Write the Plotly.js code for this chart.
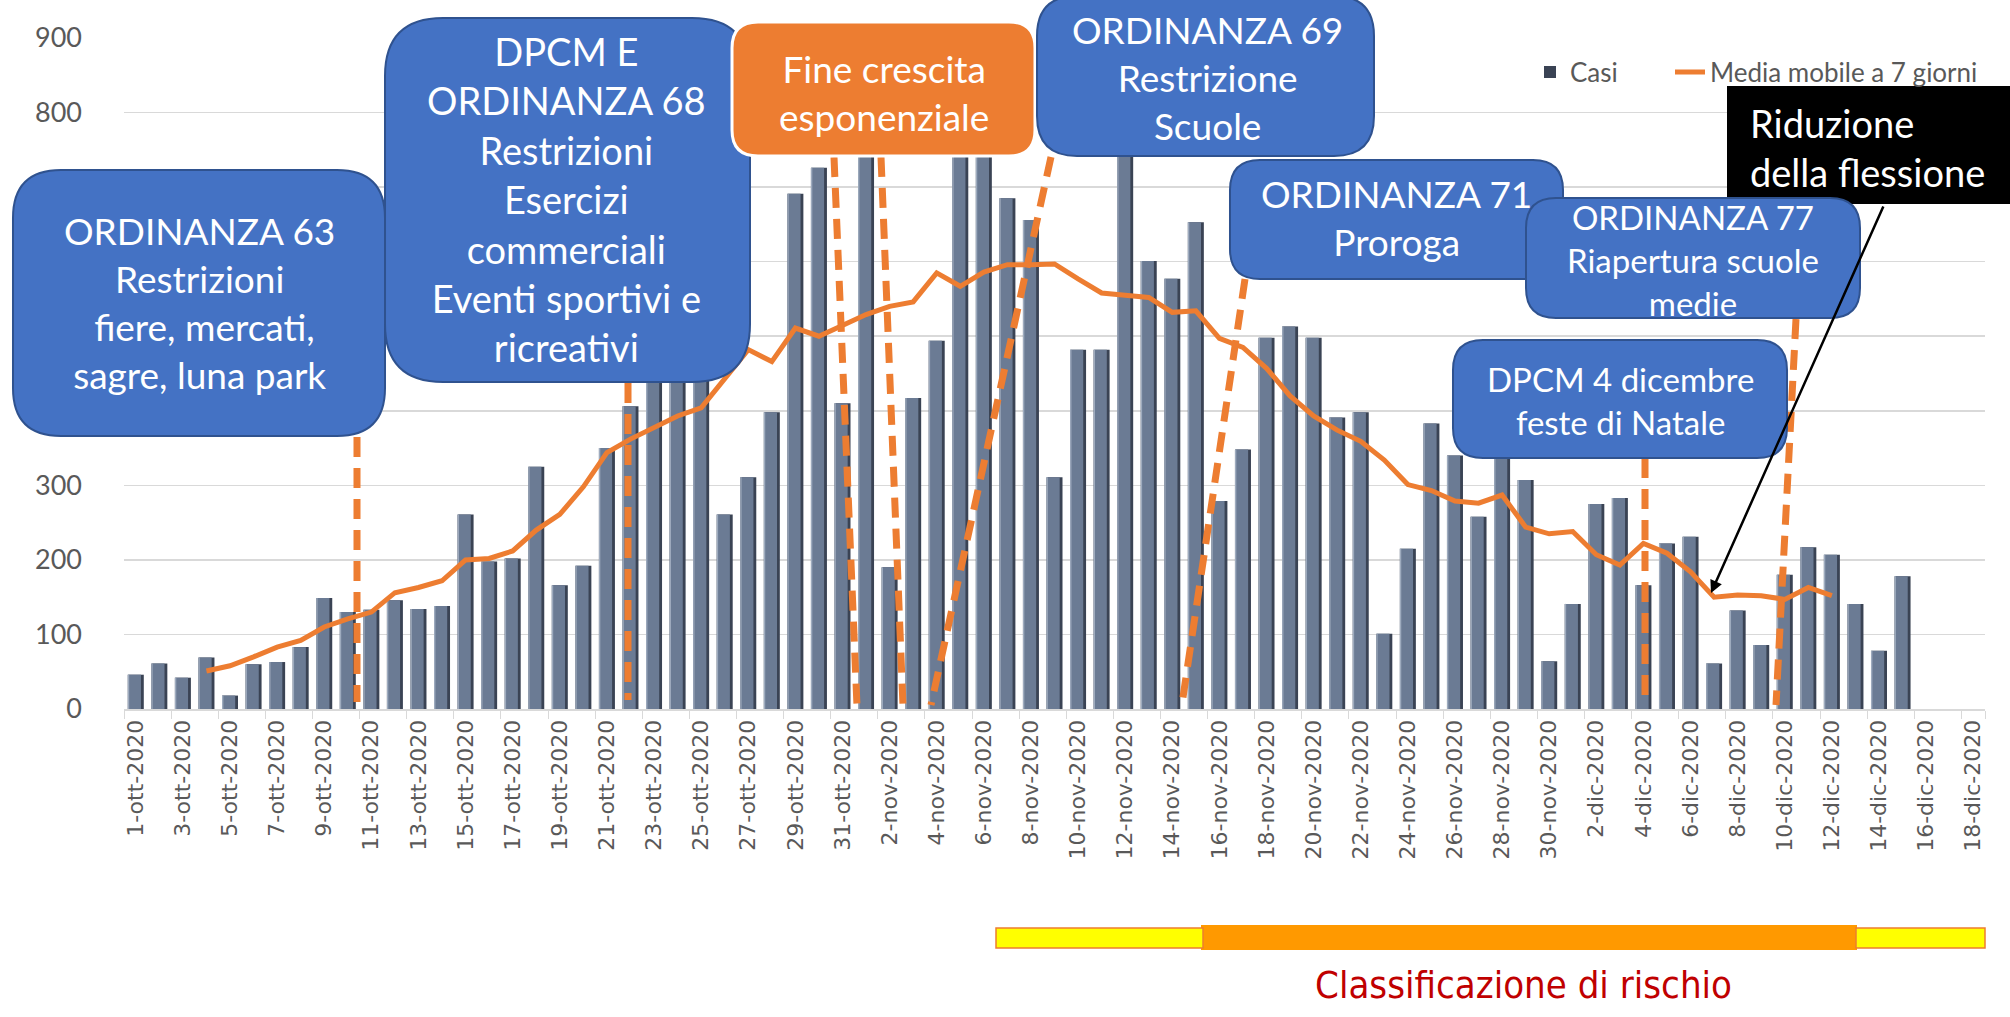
<!DOCTYPE html>
<html>
<head>
<meta charset="utf-8">
<script src="https://cdn.plot.ly/plotly-3.0.1.min.js"></script>
<style>
html,body{margin:0;padding:0;background:#fff;}
#chart{width:2010px;height:1017px;}
</style>
</head>
<body>
<div id="chart"></div>
<script>
// ---------- DATA ----------
const months = ["ott", "nov", "dic"];
const monthDays = [31, 30, 18];
const year = "2020";

// Daily cases, 1-ott-2020 .. 15-dic-2020
const casi = [
  46, 61, 42, 69, 18, 60, 63, 83, 149, 130,
  133, 146, 134, 138, 261, 198, 202, 325, 166, 192,
  350, 406, 445, 524, 451, 261, 311, 398, 691, 726,
  410, 780, 190, 417, 494, 763, 768, 685, 656, 311,
  482, 482, 795, 601, 577, 653, 279, 348, 498, 513,
  498, 391, 398, 101, 215, 383, 340, 258, 360, 307,
  64, 141, 275, 283, 166, 222, 231, 61, 132, 86,
  180, 217, 207, 141, 78, 178
];

// 7-day moving average, 4-ott-2020 .. 12-dic-2020
const mediaMobileStart = 3;
const mediaMobile = [
  51, 58, 70, 83, 92, 110, 121, 130, 156, 163,
  172, 200, 202, 212, 240, 261, 298, 344, 362, 378,
  393, 404, 443, 482, 466, 511, 500, 515, 529, 540,
  546, 585, 567, 586, 596, 596, 597, 577, 558, 555,
  552, 532, 534, 497, 485, 457, 420, 393, 374, 359,
  334, 301, 293, 279, 276, 287, 244, 235, 238, 207,
  193, 222, 209, 184, 150, 153, 152, 147, 163, 152
];

const yTicks = [0, 100, 200, 300, 400, 500, 600, 700, 800, 900];
// 400-700 sit behind the "ORDINANZA 63" box in the reference
const yTickText = ["0", "100", "200", "300", "", "", "", "", "800", "900"];

const boxTexts = {
  ord63: "ORDINANZA 63<br>Restrizioni<br> fiere, mercati,<br>sagre, luna park",
  dpcm68: "DPCM E<br>ORDINANZA 68<br>Restrizioni<br>Esercizi<br>commerciali<br>Eventi sportivi e<br>ricreativi",
  fine: "Fine crescita<br>esponenziale",
  ord69: "ORDINANZA 69<br>Restrizione<br>Scuole",
  ord71: "ORDINANZA 71<br>Proroga",
  ord77: "ORDINANZA 77<br>Riapertura scuole<br>medie",
  dpcm4: "DPCM 4 dicembre<br>feste di Natale",
  rid: "Riduzione<br>della flessione"
};
const rischioLabel = "Classificazione di rischio";

// ---------- BUILD ----------
const categories = [];
months.forEach((m, k) => {
  for (let d = 1; d <= monthDays[k]; d++) categories.push(d + "-" + m + "-" + year);
});
const casiX = categories.slice(0, casi.length);
const mmX = categories.slice(mediaMobileStart, mediaMobileStart + mediaMobile.length);
const tickVals = categories.filter((c, i) => i % 2 === 0);

// pixel -> paper helpers (plot area: x 124..1985, y 38..709)
const PL = 124, PR = 1985, PT = 38, PB = 709;
const px = x => (x - PL) / (PR - PL);
const py = y => (PB - y) / (PB - PT);

function rrect(x0, y0, x1, y1, r) {
  const P = (x, y) => px(x).toFixed(5) + "," + py(y).toFixed(5);
  return "M" + P(x0 + r, y0) + " L" + P(x1 - r, y0) + " Q" + P(x1, y0) + " " + P(x1, y0 + r) +
    " L" + P(x1, y1 - r) + " Q" + P(x1, y1) + " " + P(x1 - r, y1) +
    " L" + P(x0 + r, y1) + " Q" + P(x0, y1) + " " + P(x0, y1 - r) +
    " L" + P(x0, y0 + r) + " Q" + P(x0, y0) + " " + P(x0 + r, y0) + " Z";
}
const BLUE = "#4472C4", BLUE_LINE = "#2F528F", ORANGE = "#ED7D31";

function box(x0, y0, x1, y1, r, fill, lineColor, lw) {
  return {type: "path", xref: "paper", yref: "paper", layer: "above",
    path: rrect(x0, y0, x1, y1, r), fillcolor: fill, line: {color: lineColor, width: lw}};
}
function dashLine(x0, y0, x1, y1) {
  return {type: "line", xref: "paper", yref: "paper", layer: "above",
    x0: px(x0), y0: py(y0), x1: px(x1), y1: py(y1),
    line: {color: ORANGE, width: 7, dash: "20px,11px"}};
}
function rect(x0, y0, x1, y1, fill, lineColor, lw) {
  return {type: "rect", xref: "paper", yref: "paper", layer: "above",
    x0: px(x0), y0: py(y0), x1: px(x1), y1: py(y1),
    fillcolor: fill, line: {color: lineColor, width: lw}};
}

const shapes = [
  dashLine(357, 437, 357, 702),
  dashLine(628, 383, 628, 700),
  dashLine(834, 157, 857, 706),
  dashLine(881, 157, 903, 706),
  dashLine(1051, 157, 931, 705),
  dashLine(1245, 279, 1182, 704),
  dashLine(1796, 319, 1776, 705),
  dashLine(1645, 458, 1645, 700),
  box(13, 170, 385, 436, 48, BLUE, BLUE_LINE, 2),
  box(385, 18, 750, 382, 58, BLUE, BLUE_LINE, 2),
  box(732, 22, 1035, 156, 26, ORANGE, "#ffffff", 3),
  box(1037, -4, 1374, 156, 40, BLUE, BLUE_LINE, 2),
  box(1230, 160, 1563, 279, 30, BLUE, BLUE_LINE, 2),
  rect(1727, 86, 2012, 204, "#000000", "#000000", 0),
  box(1526, 198, 1860, 318, 30, BLUE, BLUE_LINE, 2),
  box(1453, 340, 1787, 458, 30, BLUE, BLUE_LINE, 2),
  // risk classification strip
  rect(1201, 925, 1857, 950, "#FF9900", "#FF9900", 0),
  rect(996, 928, 1203, 948, "#FFFF00", ORANGE, 1.5),
  rect(1856, 928, 1985, 948, "#FFFF00", ORANGE, 1.5)
];

const boxFont = (s) => ({family: "Lato, 'Open Sans', sans-serif", size: s, color: "#ffffff"});
function ann(x, y, text, size, align) {
  return {xref: "paper", yref: "paper", x: px(x), y: py(y), text: text, showarrow: false,
    xanchor: align === "left" ? "left" : "center", yanchor: "middle", align: align || "center",
    font: boxFont(size)};
}
const annotations = [
  ann(199, 302, boxTexts.ord63, 37),
  ann(566, 199, boxTexts.dpcm68, 38),
  ann(884, 92, boxTexts.fine, 37),
  ann(1207, 78, boxTexts.ord69, 37),
  ann(1396, 218, boxTexts.ord71, 37),
  ann(1693, 260, boxTexts.ord77, 33),
  ann(1620, 400, boxTexts.dpcm4, 33),
  ann(1748, 147, boxTexts.rid, 38, "left"),
  {xref: "paper", yref: "paper", x: px(1523), y: py(985), text: rischioLabel, showarrow: false,
    xanchor: "center", yanchor: "middle",
    font: {family: "'Liberation Sans Narrow', 'DejaVu Sans Condensed', 'Roboto Condensed', Roboto, sans-serif", size: 38, color: "#C00000"}},
  // arrow to the moving-average minimum
  {xref: "paper", yref: "paper", x: px(1711), y: py(593), ax: 173, ay: -388, axref: "pixel", ayref: "pixel",
    text: "", showarrow: true, arrowhead: 2, arrowsize: 1, arrowwidth: 2.5, arrowcolor: "#000000",
    standoff: 0, startstandoff: 0}
];

const traces = [
  {type: "bar", name: "Casi", x: casiX, y: casi, width: 0.68, offset: -0.34, legend: "legend",
    marker: {color: "#3a4354", line: {width: 0}}},
  {type: "bar", name: "Casi face", x: casiX, y: casi, width: 0.52, offset: -0.30, showlegend: false, hoverinfo: "skip",
    marker: {color: "#6b7b94", line: {width: 0}}},
  {type: "bar", name: "Casi edge", x: casiX, y: casi, width: 0.06, offset: -0.34, showlegend: false, hoverinfo: "skip",
    marker: {color: "#9eabbe", line: {width: 0}}},
  {type: "scatter", mode: "lines", name: "Media mobile a 7 giorni", x: mmX, y: mediaMobile, legend: "legend2",
    line: {color: ORANGE, width: 5}}
];

const legendFont = {family: "Lato, 'Open Sans', sans-serif", size: 26, color: "#595959"};
const layout = {
  width: 2010, height: 1017,
  margin: {l: PL, r: 2010 - PR, t: PT, b: 1017 - PB, pad: 0},
  paper_bgcolor: "#ffffff", plot_bgcolor: "#ffffff",
  barmode: "overlay",
  showlegend: true,
  legend: {orientation: "h", x: px(1530), xanchor: "left", y: py(72), yanchor: "middle",
    font: legendFont, bgcolor: "rgba(0,0,0,0)"},
  legend2: {orientation: "h", x: px(1983), xanchor: "right", y: py(72), yanchor: "middle",
    font: legendFont, bgcolor: "rgba(0,0,0,0)"},
  xaxis: {type: "category", categoryorder: "array", categoryarray: categories,
    range: [-0.5, categories.length - 0.5],
    tickmode: "array", tickvals: tickVals, ticktext: tickVals, tickangle: -90,
    tickson: "boundaries", ticks: "outside", ticklen: 8, tickcolor: "#d9d9d9",
    showgrid: false, showline: true, linecolor: "#d9d9d9", linewidth: 2,
    tickfont: {family: "'DejaVu Sans', sans-serif", size: 22, color: "#595959"}},
  yaxis: {range: [0, 900], tickmode: "array", tickvals: yTicks, ticktext: yTickText, ticks: "",
    showgrid: true, gridcolor: "#d9d9d9", gridwidth: 1.5, zeroline: false,
    ticklabelstandoff: 41,
    tickfont: {family: "Lato, 'Open Sans', sans-serif", size: 27, color: "#595959"}},
  shapes: shapes,
  annotations: annotations
};

Plotly.newPlot("chart", traces, layout, {displayModeBar: false, staticPlot: true});
</script>
</body>
</html>
